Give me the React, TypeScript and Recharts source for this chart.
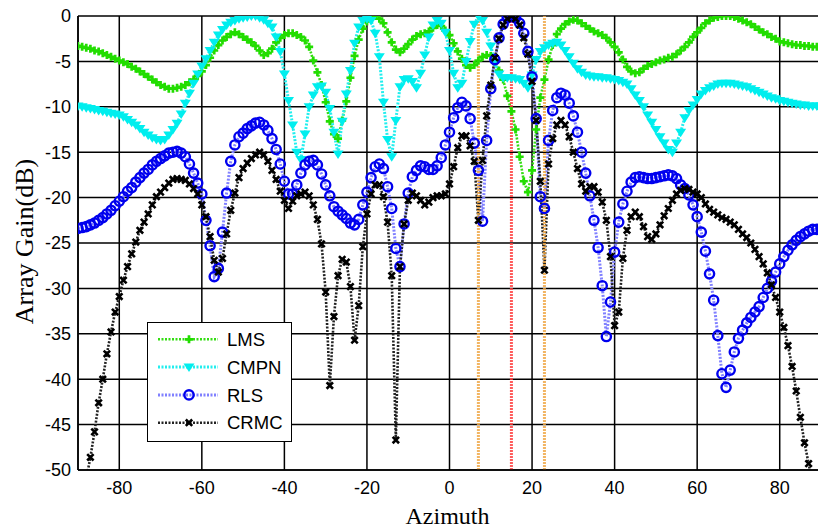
import React from "react";
import { LineChart, Line, XAxis, YAxis, CartesianGrid, ReferenceLine } from "recharts";

// azimuth grid, one sample per degree from -90 to 90
const azimuth = Array.from({ length: 181 }, (_, i) => i - 90);

const lms = [
  -3.3, -3.4, -3.5, -3.6, -3.8, -3.9, -4.1, -4.3, -4.5, -4.7,
  -4.9, -5.1, -5.3, -5.6, -5.8, -6.1, -6.4, -6.7, -7.0, -7.3,
  -7.6, -7.8, -8.0, -8.0, -7.9, -7.8, -7.6, -7.3, -7.0, -6.6,
  -6.1, -5.4, -4.6, -3.8, -3.2, -2.7, -2.3, -2.0, -1.8, -2.0,
  -2.3, -2.6, -2.9, -3.3, -3.8, -4.3, -4.1, -3.6, -2.9, -2.4,
  -2.1, -1.9, -1.9, -2.1, -2.3, -2.7, -3.4, -4.9, -6.2, -7.6,
  -9.5, -11.6, -13.0, -13.5, -11.5, -9.4, -6.8, -4.4, -2.6, -1.4,
  -0.6, -0.1, 0, -0.3, -0.8, -1.8, -2.9, -3.7, -4.0, -3.6,
  -3.1, -2.6, -2.2, -2.0, -1.9, -1.7, -1.3, -1.0, -1.1, -1.6,
  -2.1, -3.0, -3.9, -4.7, -5.4, -5.7, -5.4, -4.9, -4.5, -4.3,
  -4.4, -5.0, -6.0, -7.0, -8.8, -10.5, -12.5, -15.5, -18.2, -19.4,
  -17.0, -12.5, -9.0, -7.0, -4.8, -3.2, -2.0, -1.4, -0.9, -0.6,
  -0.4, -0.5, -0.8, -1.1, -1.4, -1.7, -1.9, -2.1, -2.4, -2.9,
  -3.4, -4.0, -4.8, -5.6, -6.1, -6.3, -6.2, -5.8, -5.5, -5.3,
  -5.1, -4.9, -4.8, -4.6, -4.5, -4.2, -3.8, -3.4, -2.9, -2.3,
  -1.8, -1.3, -0.8, -0.5, -0.2, -0.1, 0, 0, 0, -0.1,
  -0.3, -0.5, -0.7, -0.9, -1.2, -1.5, -1.8, -2.0, -2.3, -2.5,
  -2.8, -2.9, -3.0, -3.1, -3.2, -3.2, -3.3, -3.3, -3.4, -3.4,
  -3.4,
];

const cmpn = [
  -9.9, -10.0, -10.1, -10.2, -10.3, -10.4, -10.5, -10.6, -10.7, -10.8,
  -10.9, -11.1, -11.4, -11.7, -12.0, -12.4, -12.8, -13.1, -13.4, -13.6,
  -13.7, -13.6, -13.1, -12.5, -11.8, -10.8, -9.6, -8.5, -7.4, -6.4,
  -5.5, -4.7, -3.8, -2.9, -2.1, -1.5, -1.0, -0.7, -0.5, -0.3,
  -0.2, -0.1, 0, 0, -0.2, -0.4, -0.8, -1.2, -2.3, -3.9,
  -6.4, -9.3, -12.0, -15.0, -15.8, -13.0, -10.0, -8.7, -7.8, -7.7,
  -8.4, -10.2, -12.8, -15.2, -11.6, -8.6, -6.0, -3.0, -1.2, -0.5,
  -0.3, -0.5, -1.9, -4.5, -9.5, -13.6, -15.5, -11.5, -7.8, -7.0,
  -6.9, -7.2, -7.9, -6.3, -4.3, -2.3, -1.0, -0.5, -0.8, -1.8,
  -3.8, -6.3, -7.9, -7.4, -5.0, -2.8, -0.9, 0, -0.5, -1.8,
  -3.3, -5.1, -6.4, -6.8, -6.8, -6.8, -6.9, -7.0, -7.4, -7.9,
  -6.5, -4.8, -3.9, -3.5, -3.2, -3.0, -2.9, -3.2, -3.8, -4.5,
  -5.2, -5.8, -6.2, -6.5, -6.6, -6.7, -6.7, -6.8, -6.8, -6.9,
  -7.0, -7.1, -7.3, -7.5, -8.0, -8.7, -9.3, -10.0, -10.9, -11.7,
  -12.5, -13.3, -14.0, -14.7, -15.0, -14.0, -12.8, -11.2, -10.4, -9.8,
  -9.2, -8.6, -8.2, -7.9, -7.7, -7.5, -7.4, -7.4, -7.4, -7.5,
  -7.6, -7.7, -7.8, -8.0, -8.2, -8.4, -8.6, -8.8, -9.0, -9.1,
  -9.3, -9.4, -9.5, -9.6, -9.7, -9.8, -9.8, -9.9, -9.9, -9.9,
  -9.9,
];

const rls = [
  -23.4, -23.3, -23.2, -23.0, -22.8, -22.5, -22.2, -21.8, -21.4, -20.9,
  -20.4, -19.9, -19.3, -18.9, -18.3, -17.8, -17.3, -16.9, -16.4, -16.0,
  -15.7, -15.4, -15.1, -15.0, -14.9, -15.1, -15.5, -16.3, -17.3, -18.4,
  -19.6, -22.5, -25.3, -28.7, -27.8, -23.8, -19.5, -16.0, -14.2, -13.3,
  -12.9, -12.4, -12.1, -11.8, -11.7, -12.0, -12.6, -13.5, -14.7, -16.3,
  -18.2, -19.6, -19.6, -18.6, -17.3, -16.4, -16.0, -15.9, -16.4, -17.4,
  -18.6, -19.8, -21.0, -21.5, -21.9, -22.3, -22.8, -23.0, -22.4, -20.8,
  -19.4, -17.8, -16.6, -16.3, -16.8, -18.8, -21.2, -25.6, -27.6, -22.9,
  -19.5, -17.7, -17.0, -16.5, -16.6, -16.9, -16.9, -16.5, -15.6, -14.2,
  -12.8, -11.2, -10.1, -9.5, -9.9, -11.3, -14.0, -17.0, -22.6, -13.7,
  -8.0, -4.8, -2.4, -0.9, -0.2, 0, -0.2, -0.8, -1.9, -3.9,
  -6.7, -11.3, -19.9, -21.2, -13.7, -10.4, -9.0, -8.5, -8.7, -9.6,
  -11.0, -12.8, -15.0, -17.3, -19.8, -22.5, -25.5, -29.7, -35.3, -31.5,
  -26.0, -22.7, -20.7, -19.3, -18.3, -17.8, -17.7, -17.8, -17.9, -17.9,
  -17.8, -17.7, -17.6, -17.5, -17.6, -17.9, -18.6, -19.0, -19.7, -20.8,
  -22.1, -23.8, -25.9, -28.4, -31.3, -35.2, -39.4, -40.9, -39.0, -37.0,
  -35.5, -34.6, -33.8, -33.2, -32.6, -32.0, -31.0, -30.0, -29.2, -28.2,
  -27.3, -26.5, -25.8, -25.2, -24.7, -24.3, -24.0, -23.7, -23.5, -23.5,
  -23.4,
];

const crmc = [
  -55, -53, -51, -48.6, -45.8, -42.6, -40.0, -37.2, -34.8, -32.6,
  -30.9, -29.1, -27.6, -26.2, -24.9, -23.6, -22.7, -21.8, -20.8, -19.9,
  -19.4, -18.9, -18.4, -18.0, -17.9, -18.0, -18.1, -18.5, -19.0, -19.6,
  -20.8, -22.1, -24.3, -26.9, -28.2, -26.7, -24.0, -21.4, -19.5, -17.8,
  -16.8, -16.2, -15.7, -15.3, -15.0, -15.3, -16.0, -17.0, -18.0, -19.3,
  -20.3, -21.2, -20.4, -19.8, -19.6, -19.4, -19.8, -20.8, -22.4, -25.1,
  -30.4, -40.7, -33.1, -28.6, -26.8, -27.1, -29.8, -35.7, -31.9, -25.4,
  -21.8, -19.6, -18.6, -18.6, -19.9, -22.7, -28.6, -46.7, -27.6, -22.9,
  -20.3, -19.5, -19.8, -20.3, -20.8, -20.5, -20.0, -19.8, -19.8, -19.6,
  -18.5, -16.6, -14.5, -13.2, -13.2, -14.3, -16.0, -22.5, -15.9, -11.0,
  -7.6, -4.6, -2.5, -1.0, -0.3, 0, -0.3, -1.0, -2.4, -4.2,
  -7.2, -11.5, -18.2, -28.0, -16.3, -13.5, -12.0, -11.5, -12.0, -13.3,
  -15.0, -16.8, -18.5, -19.3, -18.8, -18.8, -19.4, -20.5, -22.5, -26.5,
  -34.1, -32.6, -26.7, -23.6, -22.1, -21.6, -22.1, -23.2, -24.3, -24.6,
  -24.0, -23.0, -22.0, -21.2, -20.3, -19.6, -19.2, -19.0, -19.1, -19.4,
  -19.6, -20.0, -20.7, -21.3, -21.6, -21.9, -22.2, -22.4, -22.7, -23.0,
  -23.5, -24.0, -24.4, -25.0, -25.7, -26.5, -27.3, -28.3, -29.6, -31.0,
  -32.6, -34.3, -36.3, -38.6, -41.3, -44.2, -47.0, -49.3, -51.6, -54,
  -56,
];

const xTicks = [-80, -60, -40, -20, 0, 20, 40, 60, 80];
const yTicks = [0, -5, -10, -15, -20, -25, -30, -35, -40, -45, -50];
const interferenceAngles = [7, 23];
const desiredAngle = 15;

const data = azimuth.map((az, i) => ({
  az,
  lms: lms[i],
  cmpn: cmpn[i],
  rls: rls[i],
  crmc: crmc[i],
}));

const sansFont = '"Liberation Sans", Arial, sans-serif';
const serifFont = '"Liberation Serif", "Times New Roman", serif';

const series = [
  { key: "lms", name: "LMS", color: "#22dd00", line: "#33dd11", width: 2.6, dash: "2 1.5", shape: "plus" },
  { key: "cmpn", name: "CMPN", color: "#00eeee", line: "#22eeee", width: 3, dash: "2 1.5", shape: "tri" },
  { key: "rls", name: "RLS", color: "#0000ee", line: "#8080ff", width: 3, dash: "2 1.5", shape: "circle" },
  { key: "crmc", name: "CRMC", color: "#000000", line: "#222222", width: 2.6, dash: "2 1.5", shape: "cross" },
];

const Marker = ({ shape, color, x, y }: { shape: string; color: string; x: number; y: number }) => {
  if (shape === "plus")
    return (
      <path
        d={`M${x - 4},${y}H${x + 4}M${x},${y - 4}V${y + 4}`}
        stroke={color}
        strokeWidth={2.7}
        fill="none"
      />
    );
  if (shape === "tri")
    return <path d={`M${x - 5.5},${y - 3.5}H${x + 5.5}L${x},${y + 5}Z`} fill={color} />;
  if (shape === "circle")
    return <circle cx={x} cy={y} r={4.6} fill="none" stroke={color} strokeWidth={2.4} />;
  return (
    <path
      d={`M${x - 3.2},${y - 3.2}L${x + 3.2},${y + 3.2}M${x + 3.2},${y - 3.2}L${x - 3.2},${y + 3.2}`}
      stroke={color}
      strokeWidth={2.6}
      fill="none"
    />
  );
};

const makeDot = (shape: string, color: string) => (props: any) => {
  const { cx, cy, index } = props;
  const key = `${shape}-${index}`;
  // points below the -50 dB floor are clipped away
  if (cx == null || cy == null || cy > 471) return <g key={key} />;
  return (
    <g key={key}>
      <Marker shape={shape} color={color} x={cx} y={cy} />
    </g>
  );
};

const LegendBox = () => (
  <div
    style={{
      position: "absolute",
      left: 147,
      top: 322,
      width: 145,
      height: 120,
      boxSizing: "border-box",
      border: "1.5px solid #000",
      background: "#fff",
    }}
  >
    <svg width={142} height={117} style={{ display: "block" }}>
      {series.map((s, i) => {
        const y = 16.3 + i * 27.8;
        return (
          <g key={s.key}>
            <line
              x1={10}
              x2={70}
              y1={y}
              y2={y}
              stroke={s.line}
              strokeWidth={s.width}
              strokeDasharray={s.dash}
            />
            <Marker shape={s.shape} color={s.color} x={41} y={y} />
            <text x={79} y={y + 6.6} fontSize={18.5} fontFamily={sansFont} fill="#000">
              {s.name}
            </text>
          </g>
        );
      })}
    </svg>
  </div>
);

export default function App() {
  return (
    <div
      style={{
        position: "absolute",
        left: 0,
        top: 0,
        width: 818,
        height: 532,
        overflow: "hidden",
        background: "#fff",
      }}
    >
      <LineChart
        width={830}
        height={532}
        data={data}
        margin={{ top: 16, right: 9, bottom: 0, left: 0 }}
      >
        <CartesianGrid stroke="#000" strokeWidth={1.5} />
        <XAxis
          dataKey="az"
          type="number"
          domain={[-90, 90]}
          ticks={xTicks}
          interval={0}
          allowDataOverflow
          height={62}
          tickSize={0}
          tickMargin={11}
          tickLine={false}
          axisLine={{ stroke: "#000", strokeWidth: 1.5 }}
          tick={{ fill: "#000", fontSize: 18, fontFamily: sansFont }}
        />
        <YAxis
          type="number"
          domain={[-50, 0]}
          ticks={yTicks}
          interval={0}
          allowDataOverflow
          width={78}
          tickSize={0}
          tickMargin={7}
          tickLine={false}
          axisLine={{ stroke: "#000", strokeWidth: 1.5 }}
          tick={{ fill: "#000", fontSize: 18, fontFamily: sansFont }}
        />
        {series.map((s) => (
          <Line
            key={s.key}
            type="linear"
            dataKey={s.key}
            name={s.name}
            stroke={s.line}
            strokeWidth={s.width}
            strokeDasharray={s.dash}
            dot={makeDot(s.shape, s.color)}
            activeDot={false}
            isAnimationActive={false}
          />
        ))}
        {interferenceAngles.map((a) => (
          <ReferenceLine
            key={a}
            x={a}
            stroke="#f0a848"
            strokeWidth={3}
            strokeDasharray="2 1"
            strokeOpacity={0.85}
          />
        ))}
        <ReferenceLine
          x={desiredAngle}
          stroke="#ff4040"
          strokeWidth={3}
          strokeDasharray="2 1"
          strokeOpacity={0.85}
        />
      </LineChart>
      <svg
        width={818}
        height={532}
        style={{ position: "absolute", left: 0, top: 0, pointerEvents: "none" }}
      >
        <text x={447.5} y={524} textAnchor="middle" fontSize={24} fontFamily={serifFont} fill="#000">
          Azimuth
        </text>
        <text
          transform="translate(33,241.5) rotate(-90)"
          textAnchor="middle"
          fontSize={26}
          fontFamily={serifFont}
          fill="#000"
        >
          Array Gain(dB)
        </text>
      </svg>
      <LegendBox />
    </div>
  );
}
